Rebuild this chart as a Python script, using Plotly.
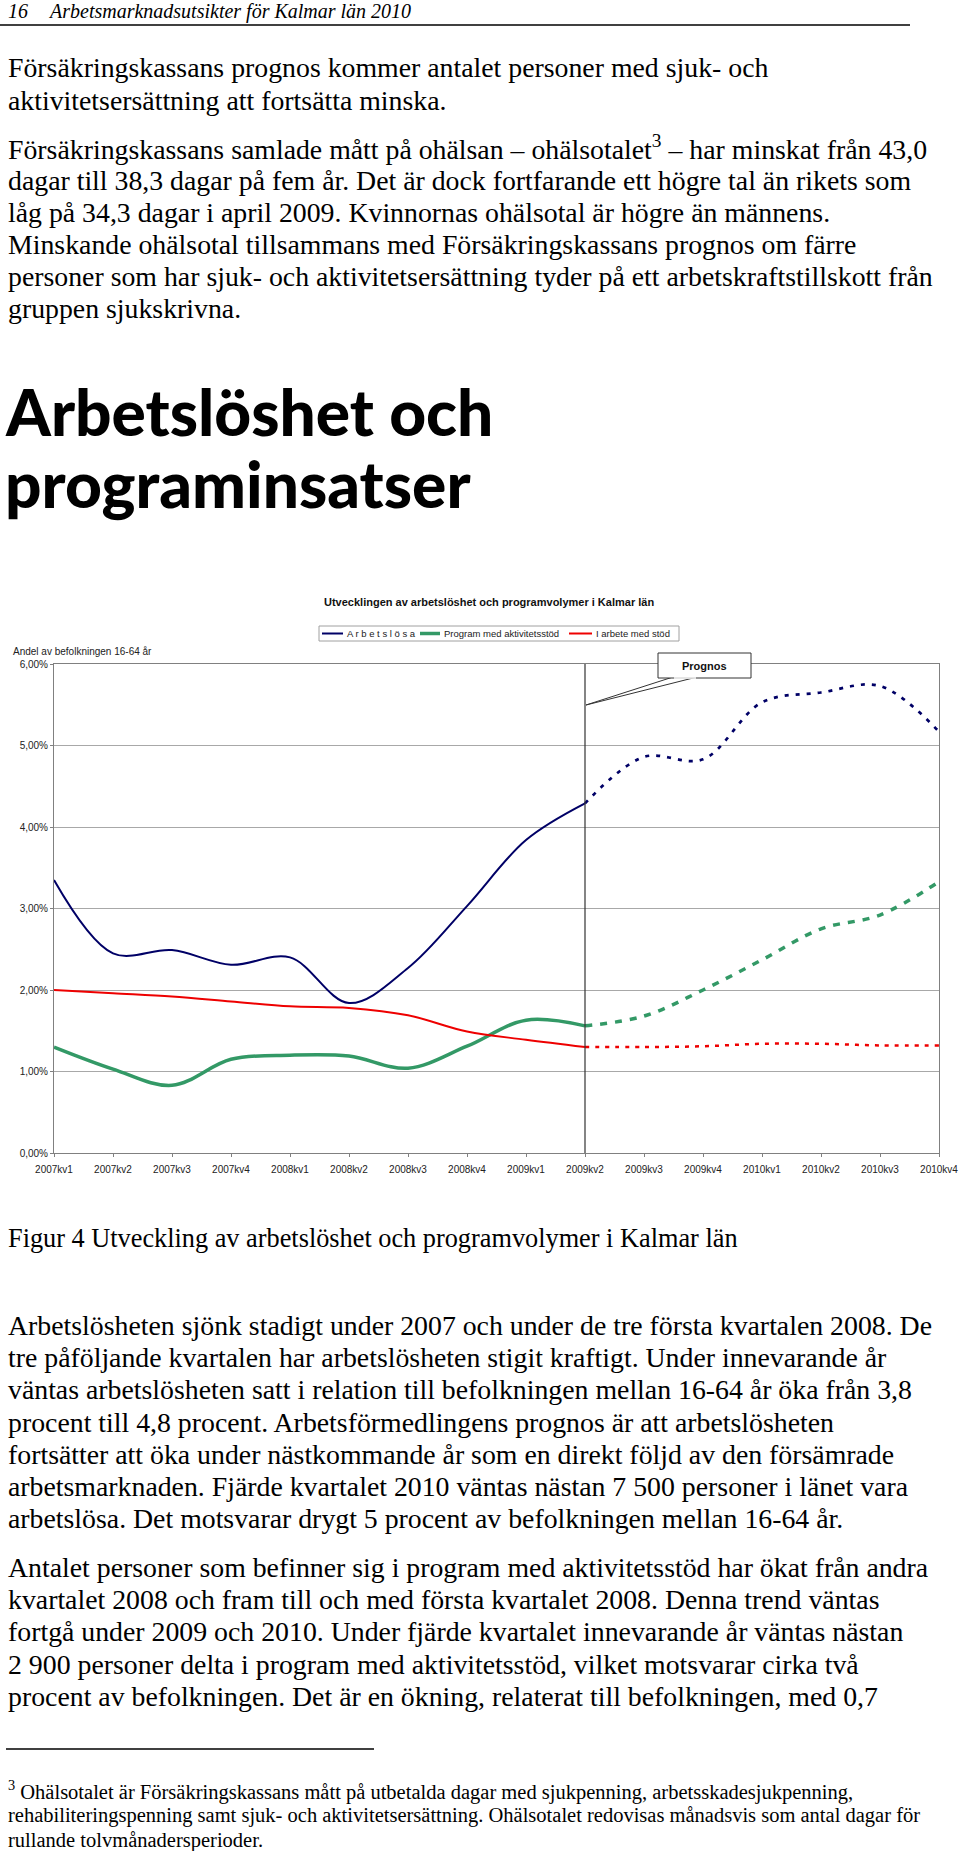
import plotly.graph_objects as go

# ---------------- data ----------------
quarters = ["2007kv1", "2007kv2", "2007kv3", "2007kv4", "2008kv1", "2008kv2", "2008kv3", "2008kv4",
            "2009kv1", "2009kv2", "2009kv3", "2009kv4", "2010kv1", "2010kv2", "2010kv3", "2010kv4"]
arbetslosa = [3.35, 2.45, 2.49, 2.31, 2.40, 1.84, 2.27, 3.03, 3.84, 4.29, 4.86, 4.83, 5.53, 5.65, 5.73, 5.17]
program_akt = [1.30, 1.03, 0.83, 1.15, 1.20, 1.19, 1.04, 1.31, 1.63, 1.56, 1.68, 2.00, 2.37, 2.75, 2.92, 3.33]
i_arbete_stod = [2.00, 1.96, 1.92, 1.86, 1.80, 1.78, 1.69, 1.49, 1.39, 1.30, 1.30, 1.31, 1.34, 1.34, 1.32, 1.32]
forecast_start = 9  # index of 2009kv2: later values are prognos
y_tickvals = [0, 1, 2, 3, 4, 5, 6]
y_ticktext = ["0,00%", "1,00%", "2,00%", "3,00%", "4,00%", "5,00%", "6,00%"]
series_names = ["A r b e t s l ö s a", "Program med aktivitetsstöd", "I arbete med stöd"]

# ---------------- page geometry ----------------
W, H = 960, 1851
L, R, T, B = 54, 21, 664, 698
PW, PH = W - L - R, H - T - B


def px(x):
    return (x - L) / PW


def py(y):
    return (H - B - y) / PH


SERIF = "Liberation Serif, Times New Roman, serif"
SANS = "Liberation Sans, Arial, sans-serif"

fig = go.Figure()

styles = [
    dict(color="#000066", width=2, dash="4px,7px", dwidth=2.7),
    dict(color="#339966", width=3.5, dash="7px,8px", dwidth=3.5),
    dict(color="#ee0000", width=2, dash="4px,6px", dwidth=2.5),
]
for vals, name, st in zip([arbetslosa, program_akt, i_arbete_stod], series_names, styles):
    fig.add_trace(go.Scatter(
        x=quarters[:forecast_start + 1], y=vals[:forecast_start + 1], name=name, mode="lines",
        line=dict(color=st["color"], width=st["width"], shape="spline", smoothing=1.0),
        showlegend=False, hoverinfo="skip"))
    fig.add_trace(go.Scatter(
        x=quarters[forecast_start:], y=vals[forecast_start:], name=name + " (prognos)", mode="lines",
        line=dict(color=st["color"], width=st["dwidth"], shape="spline", smoothing=1.0, dash=st["dash"]),
        showlegend=False, hoverinfo="skip"))

fig.update_xaxes(
    type="category", categoryorder="array", categoryarray=quarters, range=[0, 15],
    showgrid=False, showline=True, linecolor="#808080", linewidth=1, mirror=True,
    ticks="outside", ticklen=3, tickcolor="#808080",
    tickfont=dict(family=SANS, size=10, color="#222"), ticklabelstandoff=4, zeroline=False)
fig.update_yaxes(
    range=[0, 6], tickvals=y_tickvals, ticktext=y_ticktext,
    showgrid=True, gridcolor="#a8a8a8", gridwidth=1,
    showline=True, linecolor="#808080", linewidth=1, mirror=True,
    ticks="outside", ticklen=3, tickcolor="#808080",
    tickfont=dict(family=SANS, size=10, color="#222"), zeroline=False)

shapes = []
# forecast divider
shapes.append(dict(type="line", xref="x", yref="y", x0=quarters[forecast_start], x1=quarters[forecast_start],
                   y0=0, y1=6, line=dict(color="#333333", width=1.2), layer="above"))
# callout wedge + box
tip = (586, 705)
shapes.append(dict(type="path", xref="paper", yref="paper",
                   path=f"M {px(673)},{py(677)} L {px(tip[0])},{py(tip[1])} L {px(697)},{py(677)} Z",
                   fillcolor="white", line=dict(color="#333", width=1), layer="above"))
shapes.append(dict(type="rect", xref="paper", yref="paper", x0=px(658), x1=px(751), y0=py(653), y1=py(678),
                   fillcolor="white", line=dict(color="#333", width=1), layer="above"))
shapes.append(dict(type="line", xref="paper", yref="paper", x0=px(674), x1=px(696), y0=py(678), y1=py(678),
                   line=dict(color="white", width=1.5), layer="above"))
# manual legend box
shapes.append(dict(type="rect", xref="paper", yref="paper", x0=px(319), x1=px(679), y0=py(626), y1=py(641),
                   fillcolor="white", line=dict(color="#a0a0a0", width=1)))
leg_y = 633.5
leg_items = [(322, 343, 345), (420, 440, 442), (569, 592, 594)]
for (x0, x1, xt), st in zip(leg_items, styles):
    shapes.append(dict(type="line", xref="paper", yref="paper", x0=px(x0), x1=px(x1), y0=py(leg_y), y1=py(leg_y),
                       line=dict(color=st["color"], width=st["width"])))
# header rule and footnote rule
shapes.append(dict(type="line", xref="paper", yref="paper", x0=px(0), x1=px(910), y0=py(25), y1=py(25),
                   line=dict(color="black", width=1.5)))
shapes.append(dict(type="line", xref="paper", yref="paper", x0=px(6), x1=px(374), y0=py(1749), y1=py(1749),
                   line=dict(color="black", width=1.3)))

ann = []


def txt(text, x, y, size, family=SERIF, color="black", xanchor="left", **kw):
    ann.append(dict(text=text, x=px(x), y=py(y), xref="paper", yref="paper", showarrow=False,
                    xanchor=xanchor, yanchor="middle", font=dict(family=family, size=size, color=color, **kw)))


# legend texts
for (x0, x1, xt), name in zip(leg_items, series_names):
    txt(name, xt, leg_y, 9.5, family=SANS, color="#222")
# callout text
txt("<b>Prognos</b>", 704.5, 665.5, 11, family=SANS, color="#111", xanchor="center")
# chart title, axis title
txt("<b>Utvecklingen av arbetslöshet och programvolymer i Kalmar län</b>", 489, 602, 11, family=SANS,
    color="#111", xanchor="center")
txt("Andel av befolkningen 16-64 år", 11, 651, 10, family=SANS, color="#222")

# page header
txt("<i>16</i>", 6, 11, 20)
txt("<i>Arbetsmarknadsutsikter för Kalmar län 2010</i>", 46, 11, 20)

body1 = [
    ("Försäkringskassans prognos kommer antalet personer med sjuk- och", 67),
    ("aktivitetsersättning att fortsätta minska.", 100),
    ("Försäkringskassans samlade mått på ohälsan – ohälsotalet<sup>3</sup> – har minskat från 43,0", 147),
    ("dagar till 38,3 dagar på fem år. Det är dock fortfarande ett högre tal än rikets som", 180),
    ("låg på 34,3 dagar i april 2009. Kvinnornas ohälsotal är högre än männens.", 213),
    ("Minskande ohälsotal tillsammans med Försäkringskassans prognos om färre", 245),
    ("personer som har sjuk- och aktivitetsersättning tyder på ett arbetskraftstillskott från", 277),
    ("gruppen sjukskrivna.", 309),
]
for t, y in body1:
    txt(t, 6, y, 27.8)

# section heading
txt("Arbetslöshet och", 3, 411, 64, family="Lato, Inter, sans-serif", weight=900)
txt("programinsatser", 3, 483, 64, family="Lato, Inter, sans-serif", weight=900)

# figure caption
txt("Figur 4 Utveckling av arbetslöshet och programvolymer i Kalmar län", 6, 1238, 26.3)

body2 = [
    ("Arbetslösheten sjönk stadigt under 2007 och under de tre första kvartalen 2008. De", 1325),
    ("tre påföljande kvartalen har arbetslösheten stigit kraftigt. Under innevarande år", 1357),
    ("väntas arbetslösheten satt i relation till befolkningen mellan 16-64 år öka från 3,8", 1389),
    ("procent till 4,8 procent. Arbetsförmedlingens prognos är att arbetslösheten", 1422),
    ("fortsätter att öka under nästkommande år som en direkt följd av den försämrade", 1454),
    ("arbetsmarknaden. Fjärde kvartalet 2010 väntas nästan 7 500 personer i länet vara", 1486),
    ("arbetslösa. Det motsvarar drygt 5 procent av befolkningen mellan 16-64 år.", 1518),
    ("Antalet personer som befinner sig i program med aktivitetsstöd har ökat från andra", 1567),
    ("kvartalet 2008 och fram till och med första kvartalet 2008. Denna trend väntas", 1599),
    ("fortgå under 2009 och 2010. Under fjärde kvartalet innevarande år väntas nästan", 1631),
    ("2 900 personer delta i program med aktivitetsstöd, vilket motsvarar cirka två", 1664),
    ("procent av befolkningen. Det är en ökning, relaterat till befolkningen, med 0,7", 1696),
]
for t, y in body2:
    txt(t, 6, y, 27.8)

foot = [
    ("<sup>3</sup> Ohälsotalet är Försäkringskassans mått på utbetalda dagar med sjukpenning, arbetsskadesjukpenning,", 1790),
    ("rehabiliteringspenning samt sjuk- och aktivitetsersättning. Ohälsotalet redovisas månadsvis som antal dagar för", 1815),
    ("rullande tolvmånadersperioder.", 1840),
]
for t, y in foot:
    txt(t, 6, y, 20.5)

fig.update_layout(
    width=W, height=H, margin=dict(l=L, r=R, t=T, b=B, autoexpand=False),
    paper_bgcolor="white", plot_bgcolor="white", showlegend=False,
    shapes=shapes, annotations=ann,
)
fig.write_html("out.html", config={"displayModeBar": False},
               post_script="document.body.style.margin='0px';document.body.style.overflow='hidden';")
